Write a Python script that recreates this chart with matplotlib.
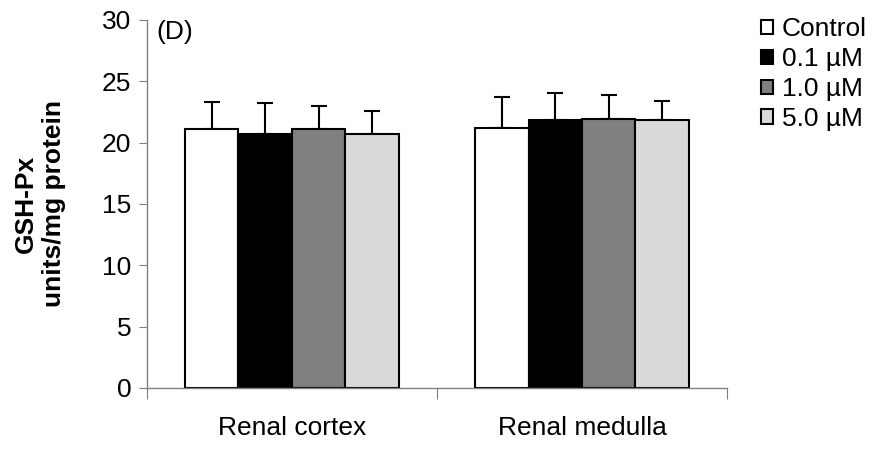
import numpy as np
import matplotlib.pyplot as plt

plt.rcParams['font.family'] = ['Liberation Sans', 'DejaVu Sans']

# GSH-Px activity (units/mg protein), mean and SD
tissues = ['Renal cortex', 'Renal medulla']
groups = ['Control', '0.1 \u00b5M', '1.0 \u00b5M', '5.0 \u00b5M']
means = {
    'Control':   [21.1, 21.2],
    '0.1 \u00b5M': [20.7, 21.8],
    '1.0 \u00b5M': [21.1, 21.9],
    '5.0 \u00b5M': [20.7, 21.8],
}
sds = {
    'Control':   [2.2, 2.5],
    '0.1 \u00b5M': [2.5, 2.2],
    '1.0 \u00b5M': [1.9, 2.0],
    '5.0 \u00b5M': [1.9, 1.6],
}
colors = ['white', 'black', '#808080', '#d9d9d9']

fig = plt.figure(figsize=(8.89, 4.5), dpi=100)
ax = fig.add_axes([0.165, 0.138, 0.653, 0.818])

x = np.arange(len(tissues)) + 0.5
w = 0.184
for i, g in enumerate(groups):
    pos = x + (i - 1.5) * w
    ax.bar(pos, means[g], w, color=colors[i], edgecolor='black', linewidth=1.5,
           label=g, zorder=2)
    ax.errorbar(pos, means[g], yerr=[np.zeros(2), sds[g]], fmt='none',
                ecolor='black', elinewidth=1.5, capsize=6, capthick=1.5, zorder=1)

ax.set_xlim(0, 2)
ax.set_ylim(0, 30)
ax.set_yticks(range(0, 31, 5))
ax.set_xticks([0, 1, 2])
ax.set_xticklabels([])
ax.set_xticks(x, minor=True)
ax.set_xticklabels(tissues, minor=True, fontsize=19)
ax.tick_params(axis='x', which='minor', length=0, pad=20)
ax.tick_params(axis='x', which='major', length=8, color='#808080', direction='out')
ax.tick_params(axis='y', length=6, color='#808080', direction='out', labelsize=19, pad=5)

for s in ['top', 'right']:
    ax.spines[s].set_visible(False)
for s in ['left', 'bottom']:
    ax.spines[s].set_color('#808080')
    ax.spines[s].set_linewidth(1)

ax.set_ylabel('GSH-Px\nunits/mg protein', fontsize=19, fontweight='bold', labelpad=26,
              linespacing=1.2)
ax.text(0.035, 29.0, '(D)', fontsize=19, va='center')

ax.legend(loc='upper left', bbox_to_anchor=(1.04, 1.035), frameon=False, fontsize=19,
          handlelength=0.45, handleheight=0.45, handletextpad=0.35, labelspacing=0.22,
          borderaxespad=0)

fig.savefig('out.png', dpi=100)
